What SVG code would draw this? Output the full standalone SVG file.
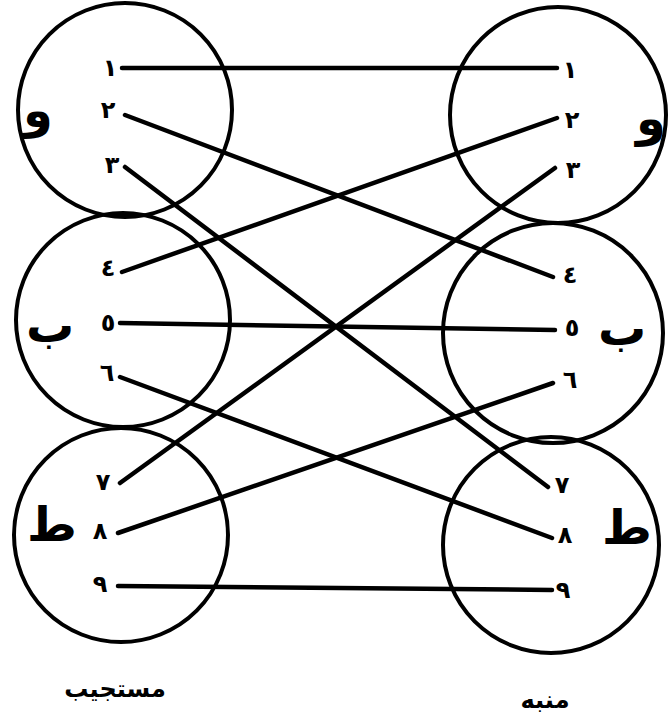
<svg xmlns="http://www.w3.org/2000/svg" width="668" height="713" viewBox="0 0 668 713">
<style>
.c{fill:none;stroke:#000;stroke-width:4}
.n{font-family:"DejaVu Sans",sans-serif;font-weight:bold;font-size:24px;text-anchor:middle;dominant-baseline:central;fill:#000}
.b{font-family:"DejaVu Sans",sans-serif;font-weight:bold;font-size:48px;text-anchor:middle;dominant-baseline:central;fill:#000}
.l{font-family:"DejaVu Sans",sans-serif;font-weight:bold;font-size:24px;text-anchor:middle;fill:#000}
#connectors line{stroke:#000;stroke-width:4.5;stroke-linecap:round}
</style>
<rect width="668" height="713" fill="#fff"/>
<g id="connectors">
<line x1="122" y1="68" x2="557" y2="68"/>
<line x1="125" y1="115" x2="553" y2="277"/>
<line x1="125" y1="167" x2="548" y2="487"/>
<line x1="557" y1="118" x2="122" y2="272"/>
<line x1="555" y1="168" x2="120" y2="483"/>
<line x1="120" y1="323" x2="555" y2="330"/>
<line x1="120" y1="377" x2="552" y2="538"/>
<line x1="553" y1="383" x2="118" y2="533"/>
<line x1="118" y1="586" x2="552" y2="590"/>
</g>
<g id="left-waw">
<circle class="c" cx="125" cy="110" r="107"/>
<text class="b" x="38" y="110">و</text>
<text class="n" x="110" y="68">١</text>
<text class="n" x="108" y="110">٢</text>
<text class="n" x="112" y="165">٣</text>
</g>
<g id="left-ba">
<circle class="c" cx="123" cy="320" r="107"/>
<text class="b" x="50" y="325">ب</text>
<text class="n" x="108" y="268">٤</text>
<text class="n" x="108" y="323">٥</text>
<text class="n" x="107" y="373">٦</text>
</g>
<g id="left-ta">
<circle class="c" cx="121" cy="535" r="107"/>
<text class="b" x="52" y="524">ط</text>
<text class="n" x="103" y="482">٧</text>
<text class="n" x="100" y="531">٨</text>
<text class="n" x="100" y="584">٩</text>
</g>
<g id="right-waw">
<circle class="c" cx="558" cy="115" r="108"/>
<text class="b" x="651" y="118">و</text>
<text class="n" x="570" y="70">١</text>
<text class="n" x="572" y="120">٢</text>
<text class="n" x="573" y="170">٣</text>
</g>
<g id="right-ba">
<circle class="c" cx="553" cy="333" r="110"/>
<text class="b" x="622" y="328">ب</text>
<text class="n" x="570" y="275">٤</text>
<text class="n" x="572" y="328">٥</text>
<text class="n" x="570" y="380">٦</text>
</g>
<g id="right-ta">
<circle class="c" cx="551" cy="545" r="108"/>
<text class="b" x="627" y="527">ط</text>
<text class="n" x="562" y="485">٧</text>
<text class="n" x="565" y="535">٨</text>
<text class="n" x="563" y="590">٩</text>
</g>
<text class="l" x="115" y="697">مستجيب</text>
<text class="l" x="545" y="708">منبه</text>
</svg>
